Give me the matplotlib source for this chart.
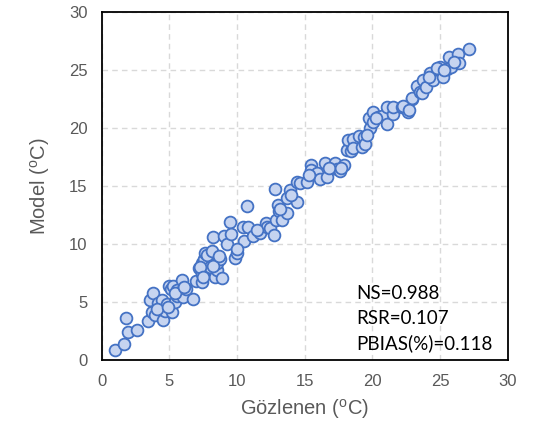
import matplotlib
matplotlib.use("Agg")
import matplotlib.pyplot as plt

observed = [0.97, 1.66, 1.81, 1.98, 2.65, 3.46, 3.58, 3.7, 3.83, 3.93, 4.2, 4.44, 4.57, 4.7,
            4.85, 5.0, 5.1, 5.2, 5.3, 5.45, 5.55, 5.6, 5.8, 5.92, 6.0, 6.25, 6.78, 7.0, 7.22,
            7.4, 7.4, 7.45, 7.6, 7.64, 7.8, 7.96, 8.0, 8.14, 8.26, 8.4, 8.5, 8.5, 8.75, 8.88,
            9.05, 9.29, 9.49, 9.54, 9.86, 9.98, 10.47, 10.52, 10.72, 10.84, 11.21, 11.7, 12.15,
            12.2, 12.44, 12.75, 12.81, 12.89, 13.06, 13.1, 13.35, 13.68, 13.68, 13.92, 14.42,
            14.42, 14.66, 15.15, 15.47, 15.5, 15.9, 16.1, 16.5, 16.63, 17.25, 17.41, 17.6, 17.93,
            18.1, 18.23, 18.4, 18.55, 18.6, 19.05, 19.22, 19.38, 19.45, 19.78, 19.8, 20.07, 20.07,
            20.4, 20.69, 21.06, 21.06, 21.55, 21.55, 22.17, 22.66, 22.9, 22.95, 23.28, 23.52,
            23.65, 23.77, 24.0, 24.26, 24.5, 25.0, 25.25, 25.5, 25.69, 25.8, 26.35, 26.43, 27.16,
            4.1, 4.9, 5.4, 6.1, 7.3, 7.5, 8.2, 8.7, 10.0, 11.5, 13.2, 14.0, 15.3, 16.8, 17.7,
            19.6, 20.3, 22.3, 22.7, 24.2, 24.8, 25.3, 26.0]
modelled = [0.86, 1.38, 3.6, 2.44, 2.59, 3.4, 5.18, 4.17, 5.75, 3.9, 4.9, 5.18, 3.45, 4.2,
            4.8, 6.4, 6.1, 4.1, 6.4, 5.0, 6.04, 5.5, 5.9, 6.9, 5.4, 6.1, 5.3, 6.8, 7.91,
            6.76, 8.34, 7.4, 8.7, 9.2, 9.1, 7.91, 8.0, 9.43, 10.64, 7.2, 7.76, 8.4, 8.69, 7.05,
            10.7, 10.0, 11.93, 10.87, 8.77, 9.2, 11.45, 10.3, 13.29, 11.45, 10.7, 10.98, 11.8,
            11.5, 11.36, 10.8, 14.73, 12.08, 13.37, 12.9, 12.1, 12.66, 13.95, 14.67, 13.66,
            15.4, 15.25, 15.4, 16.82, 16.4, 16.1, 15.6, 17.02, 15.8, 16.97, 16.45, 16.3, 16.82,
            18.1, 18.98, 18.0, 19.04, 18.26, 19.3, 18.4, 19.27, 18.6, 20.85, 20.0, 20.5, 21.42,
            21.0, 21.05, 20.36, 21.8, 21.2, 21.86, 21.86, 21.42, 22.5, 22.6, 23.64, 23.15,
            23.0, 24.16, 23.6, 24.74, 24.16, 25.25, 24.45, 25.1, 26.11, 25.3, 26.4, 25.6, 26.83,
            4.4, 4.6, 5.8, 6.3, 8.0, 7.2, 8.1, 9.0, 9.6, 11.2, 13.0, 14.2, 16.0, 16.6, 16.6,
            19.4, 20.9, 21.9, 21.6, 24.4, 25.2, 25.0, 25.7]

ticks = [0, 5, 10, 15, 20, 25, 30]
stats_lines = ["NS=0.988", "RSR=0.107", "PBIAS(%)=0.118"]
xlabel = "Gözlenen ($\\mathregular{^{o}}$C)"
ylabel = "Model ($\\mathregular{^{o}}$C)"

plt.rcParams['font.family'] = ['Liberation Sans', 'DejaVu Sans']

fig = plt.figure(figsize=(5.38, 4.30), dpi=100)
ax = fig.add_axes([0.1887, 0.1628, 0.7550, 0.8084])

ax.scatter(observed, modelled, s=72, facecolor='#c6d4f0', edgecolor='#4472c4',
           linewidth=1.3, zorder=3)

ax.set_xlim(0, 30)
ax.set_ylim(0, 30)
ax.set_xticks(ticks)
ax.set_yticks(ticks)
ax.grid(True, linestyle=(0, (4, 3)), color='#d9d9d9', linewidth=1.0, zorder=0)
ax.set_axisbelow(True)
ax.tick_params(length=0, labelsize=12, labelcolor='#595959', pad=10)
for sp in ax.spines.values():
    sp.set_color('black')
    sp.set_linewidth(1.3)

ax.set_xlabel(xlabel, fontsize=14.5, color='#595959', labelpad=6)
ax.set_ylabel(ylabel, fontsize=14.5, color='#595959', labelpad=12)

ys = [5.78, 3.62, 1.47]
for line, yv in zip(stats_lines, ys):
    ax.text(18.8, yv, line, fontsize=13.5, family=['Lato', 'DejaVu Sans'],
            color='black', va='center', ha='left', zorder=4)

fig.savefig("out.png", dpi=100)
